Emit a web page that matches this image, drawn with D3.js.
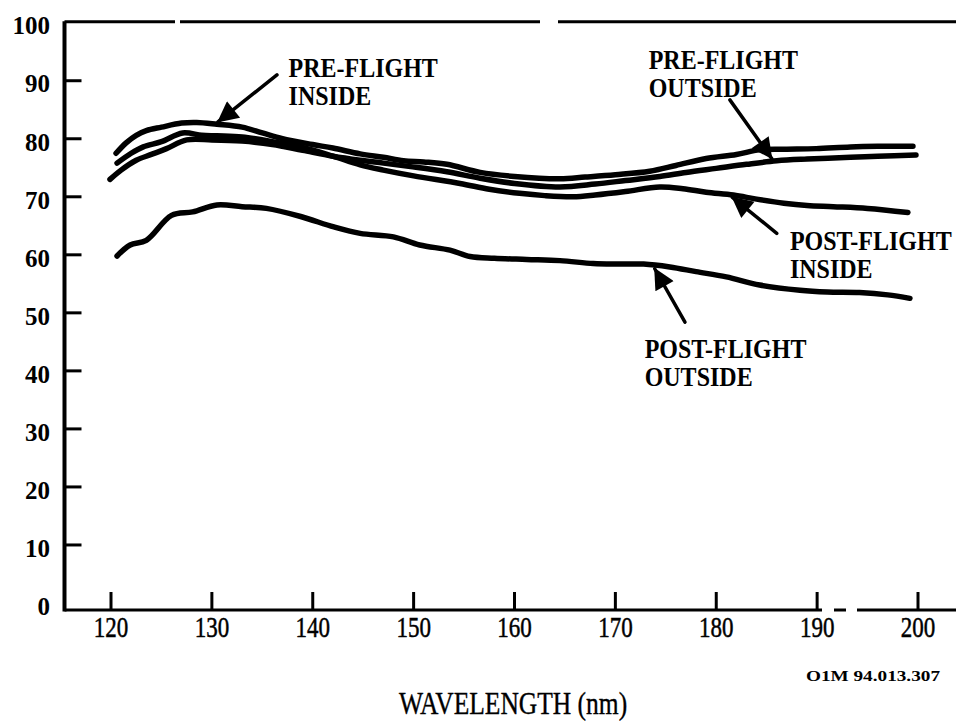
<!DOCTYPE html>
<html><head><meta charset="utf-8">
<script src="https://cdn.jsdelivr.net/npm/d3@7"></script>
<style>body{margin:0;background:#fff}svg{display:block}</style>
</head><body>
<svg id="c" width="956" height="721"></svg>
<script>
// ---- data (wavelength nm, reflectance %) ----
const xTicks = [120,130,140,150,160,170,180,190,200];
const yTicks = [0,10,20,30,40,50,60,70,80,90,100];

const preFlightInside = [[120.5,77.5],[121.5,79.3],[122.5,80.6],[123.5,81.4],[125,82.0],[127,82.7],[128.5,82.8],[130.5,82.5],[133,82.0],[135,81.0],[137,80.0],[140,79.0],[142,78.4],[144.7,77.4],[147,76.8],[149,76.2],[151,76.0],[153.3,75.6],[156.6,74.2],[160,73.5],[164.5,73.1],[167,73.4],[170,73.8],[173.4,74.4],[176,75.4],[179,76.6],[182,77.3],[184.3,78.1],[187,78.2],[189.9,78.3],[193.3,78.6],[196,78.7],[199.5,78.7]];
const preFlightOutside = [[119.9,73.0],[121,74.6],[122.5,76.3],[124,77.3],[125.5,78.3],[127.5,79.8],[130,79.8],[133,79.6],[136,79.0],[139,78.0],[142,77.0],[144.7,76.3],[147,75.8],[149.7,75.2],[153.3,74.3],[156.6,73.2],[160,72.3],[164.5,71.7],[168,72.2],[171,72.8],[174.4,73.5],[177,74.2],[180,74.9],[183,75.6],[186,76.2],[189,76.5],[193.3,76.8],[196,77.0],[199.8,77.2]];
const postFlightInside = [[120.6,75.8],[122,77.5],[123.2,78.6],[125,79.5],[127.1,81.0],[129,80.6],[130.5,80.5],[133,80.3],[136,79.5],[139,78.5],[142,77.0],[144.7,75.5],[147,74.6],[150,73.6],[154.6,72.3],[157.5,71.3],[160.5,70.6],[163,70.2],[165.8,70.0],[168,70.3],[171,70.9],[174.4,71.7],[176.7,71.4],[179,70.8],[181.7,70.3],[184,69.6],[186.7,68.9],[189,68.5],[191.6,68.3],[195,68.0],[199,67.3]];
const postFlightOutside = [[120.6,59.8],[121.9,61.7],[123.5,62.5],[126,66.8],[128.1,67.4],[130.5,68.6],[133,68.3],[135.4,68.0],[138.8,66.6],[142.1,64.8],[144.7,63.7],[148,63.1],[150.6,61.7],[153.6,60.8],[155.6,59.7],[158,59.4],[161.2,59.2],[164.5,59.0],[167.8,58.5],[170,58.4],[172.8,58.4],[175.4,57.9],[178,57.1],[181,56.2],[184.3,54.8],[188.3,53.9],[191,53.6],[194.2,53.5],[197,53.1],[199.2,52.5]];

const seriesNames = ["PRE-FLIGHT INSIDE","PRE-FLIGHT OUTSIDE","POST-FLIGHT INSIDE","POST-FLIGHT OUTSIDE"];
const seriesData = [preFlightInside, preFlightOutside, postFlightInside, postFlightOutside];

// annotation labels: [lines], anchor [λ, value] of first baseline
const labelText = [["PRE-FLIGHT","INSIDE"],["PRE-FLIGHT","OUTSIDE"],["POST-FLIGHT","INSIDE"],["POST-FLIGHT","OUTSIDE"]];
const labelPos = [[137.6,90.6],[173.3,92.0],[187.3,60.8],[172.9,42.2]];
// arrows: [from λ, from v, to λ, to v]
const arrowPos = [[136.45,91.0,130.6,82.9],[181.35,86.7,185.5,76.6],[186.0,63.7,181.6,69.9],[176.9,48.4,173.9,57.6]];

const xTitle = "WAVELENGTH (nm)";
const figId = "O1M 94.013.307";

// ---- drawing ----
const svg = d3.select("#c");
const x = d3.scaleLinear().domain([120,200]).range([111,918]);
const y = d3.scaleLinear().domain([0,100]).range([603,22.7]);
const axisX = 64.5, axisY = 610, topY = y(100);
const font = "'Liberation Serif','Times New Roman',serif";

// frame: left axis
svg.append("line").attr("x1",axisX).attr("x2",axisX).attr("y1",topY-1.5).attr("y2",axisY+1.5)
  .attr("stroke","#000").attr("stroke-width",4);
// top border (with scan gaps)
[[axisX,175],[180,540],[558,956]].forEach(s=>{
  svg.append("line").attr("x1",s[0]).attr("x2",s[1]).attr("y1",topY-1).attr("y2",topY-1)
    .attr("stroke","#000").attr("stroke-width",3);
});
// bottom axis (with gaps)
[[axisX,822],[834,846],[857,956]].forEach(s=>{
  svg.append("line").attr("x1",s[0]).attr("x2",s[1]).attr("y1",axisY).attr("y2",axisY)
    .attr("stroke","#000").attr("stroke-width",3);
});

// y ticks (inward) and labels
const yInner = yTicks.filter(d=>d>0 && d<100);
svg.selectAll(".yt").data(yInner).join("line")
  .attr("x1",axisX).attr("x2",axisX+17).attr("y1",d=>y(d)).attr("y2",d=>y(d))
  .attr("stroke","#000").attr("stroke-width",3);
svg.selectAll(".yl").data(yTicks).join("text")
  .attr("x",50).attr("y",d=>y(d)+3).attr("dy","0.35em")
  .attr("text-anchor","end").attr("font-family",font).attr("font-weight","bold")
  .attr("font-size",25).attr("fill","#000").text(d=>d);

// x ticks (upward) and labels
svg.selectAll(".xt").data(xTicks).join("line")
  .attr("x1",d=>x(d)).attr("x2",d=>x(d)).attr("y1",axisY).attr("y2",axisY-18)
  .attr("stroke","#000").attr("stroke-width",3);
svg.selectAll(".xl").data(xTicks).join("text")
  .attr("transform",d=>`translate(${x(d)},637) scale(1,1.3)`)
  .attr("text-anchor","middle").attr("font-family",font)
  .attr("font-size",23).attr("stroke","#000").attr("stroke-width",0.4)
  .attr("fill","#000").text(d=>d);

// curves
const line = d3.line().x(d=>x(d[0])).y(d=>y(d[1])).curve(d3.curveCatmullRom.alpha(0.5));
svg.selectAll(".curve").data(seriesData).join("path")
  .attr("d",line).attr("fill","none").attr("stroke","#000")
  .attr("stroke-width",5.5).attr("stroke-linecap","round").attr("stroke-linejoin","round");

// arrows
svg.append("defs").append("marker").attr("id","ah")
  .attr("viewBox","0 0 10 10").attr("refX",9.5).attr("refY",5)
  .attr("markerWidth",7).attr("markerHeight",6).attr("markerUnits","strokeWidth")
  .attr("orient","auto")
  .append("path").attr("d","M0,0 L10,5 L0,10 Z").attr("fill","#000");
svg.selectAll(".arrow").data(arrowPos).join("line")
  .attr("x1",d=>x(d[0])).attr("y1",d=>y(d[1])).attr("x2",d=>x(d[2])).attr("y2",d=>y(d[3]))
  .attr("stroke","#000").attr("stroke-width",3.5).attr("stroke-linecap","round")
  .attr("marker-end","url(#ah)");

// labels
labelText.forEach((lines,i)=>{
  const px = x(labelPos[i][0]), py = y(labelPos[i][1]);
  lines.forEach((t,j)=>{
    svg.append("text").attr("transform",`translate(${px},${py+j*28}) scale(1,1.15)`)
      .attr("font-family",font).attr("font-weight","bold").attr("font-size",24)
      .attr("fill","#000").text(t);
  });
});

// axis title
svg.append("text").attr("transform","translate(513,714) scale(1,1.25)")
  .attr("text-anchor","middle").attr("font-family",font).attr("font-size",25.5)
  .attr("stroke","#000").attr("stroke-width",0.3)
  .attr("fill","#000").text(xTitle);
// figure id
svg.append("text").attr("x",806).attr("y",681)
  .attr("font-family",font).attr("font-weight","bold").attr("font-size",15)
  .attr("textLength",134).attr("lengthAdjust","spacingAndGlyphs")
  .attr("fill","#000").text(figId);
</script>
</body></html>
